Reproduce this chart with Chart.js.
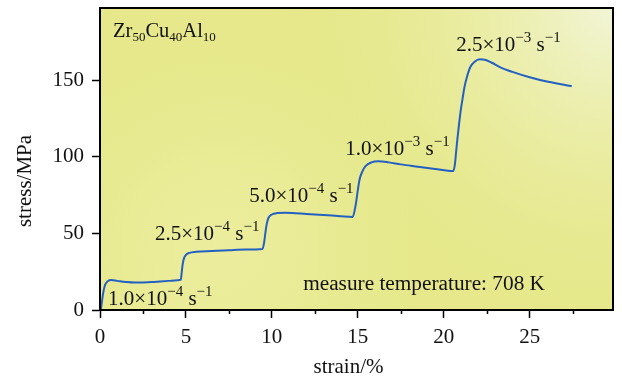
<!DOCTYPE html>
<html>
<head>
<meta charset="utf-8">
<script src="https://cdn.jsdelivr.net/npm/chart.js@4/dist/chart.umd.min.js"></script>
<style>
  html, body { margin: 0; padding: 0; background: #fff; }
  #wrap { width: 622px; height: 378px; position: relative; }
</style>
</head>
<body>
<div id="wrap"><canvas id="c" width="622" height="378"></canvas></div>
<script>
// Tensile stress–strain curve with strain-rate jumps, Zr50Cu40Al10 at 708 K
const strain = [
  0.05, 0.12, 0.2, 0.3, 0.45, 0.65, 1.0, 1.5, 2.0, 2.5, 3.0, 3.5, 4.0, 4.5, 4.7,
  4.75, 4.8, 4.88, 5.0, 5.2, 5.6, 6.5, 7.5, 8.5, 9.45,
  9.55, 9.62, 9.7, 9.8, 10.0, 10.3, 10.8, 12.0, 13.0, 14.0, 14.7,
  14.8, 14.9, 15.0, 15.1, 15.25, 15.45, 15.8, 16.2, 16.8, 17.5, 18.5, 19.5, 20.55,
  20.65, 20.72, 20.8, 20.9, 21.0, 21.1, 21.2, 21.35, 21.55, 21.8, 22.1, 22.4, 22.8, 23.3, 24.0, 25.0, 26.0, 27.0, 27.45
];
const stress = [
  0, 6, 12, 16.5, 18.8, 19.5, 19.0, 18.3, 17.9, 18.0, 18.2, 18.6, 19.0, 19.4, 19.8,
  24, 29, 33.5, 36, 37.3, 38, 38.5, 39, 39.4, 39.8,
  44, 50, 56, 60, 62.3, 63.2, 63.4, 62.7, 62, 61.2, 60.7,
  64, 70, 78, 85, 90, 93.8, 96.3, 97, 96.3, 95, 93.5, 92, 90.6,
  95, 103, 112, 122, 131, 138, 145, 152, 158.5, 162, 163.5, 163.3, 161.3, 158.3, 155.3, 151.8, 149, 147, 146
];

const xTicks = [0, 5, 10, 15, 20, 25];
const xMinorTicks = [2.5, 7.5, 12.5, 17.5, 22.5, 27.5];
const yTicks = [0, 50, 100, 150];

const rateLabels = ['1.0×10^{−4} s^{−1}', '2.5×10^{−4} s^{−1}', '5.0×10^{−4} s^{−1}', '1.0×10^{−3} s^{−1}', '2.5×10^{−3} s^{−1}'];
const rateLabelAt = [[0.47, 3.3], [3.2, 45.6], [8.68, 70.6], [14.27, 101], [20.73, 168.9]];
const alloyName = 'Zr_{50}Cu_{40}Al_{10}';
const alloyAt = [0.76, 178];
const tempNote = 'measure temperature: 708 K';
const tempAt = [11.82, 13.0];

const FONT = '"Liberation Serif", "Times New Roman", serif';

// split "a^{b}c_{d}" into normal / superscript / subscript runs
function parseRich(str) {
  const out = [];
  let i = 0, buf = '';
  while (i < str.length) {
    const ch = str[i];
    if ((ch === '^' || ch === '_') && str[i + 1] === '{') {
      if (buf) { out.push({ t: buf, k: 'n' }); buf = ''; }
      const end = str.indexOf('}', i);
      out.push({ t: str.slice(i + 2, end), k: ch === '^' ? 'sup' : 'sub' });
      i = end + 1;
    } else { buf += ch; i++; }
  }
  if (buf) out.push({ t: buf, k: 'n' });
  return out;
}

function drawRich(ctx, str, x, y, size, supRatio) {
  const runs = parseRich(str);
  ctx.textBaseline = 'alphabetic';
  ctx.textAlign = 'left';
  ctx.fillStyle = '#111';
  let cx = x;
  for (const r of runs) {
    let fs = size, dy = 0;
    if (r.k === 'sup') { fs = Math.round(size * supRatio); dy = -size * 0.42; }
    if (r.k === 'sub') { fs = Math.round(size * 0.64); dy = size * 0.2; }
    ctx.font = fs + 'px ' + FONT;
    ctx.fillText(r.t, cx, y + dy);
    cx += ctx.measureText(r.t).width;
  }
}

const decor = {
  id: 'decor',
  beforeDraw(chart) {
    const { ctx, chartArea: a } = chart;
    ctx.save();
    ctx.fillStyle = '#e6e88b';
    ctx.fillRect(a.left, a.top, a.right - a.left, a.bottom - a.top);
    const g = ctx.createRadialGradient(a.right, a.top, 0, a.right, a.top, 330);
    g.addColorStop(0, 'rgba(242,245,214,1)');
    g.addColorStop(0.45, 'rgba(236,239,176,0.6)');
    g.addColorStop(1, 'rgba(230,232,139,0)');
    ctx.fillStyle = g;
    ctx.fillRect(a.left, a.top, a.right - a.left, a.bottom - a.top);
    const g2 = ctx.createRadialGradient(a.left + 120, a.bottom - 60, 0, a.left + 120, a.bottom - 60, 200);
    g2.addColorStop(0, 'rgba(238,240,166,0.7)');
    g2.addColorStop(1, 'rgba(238,240,166,0)');
    ctx.fillStyle = g2;
    ctx.fillRect(a.left, a.top, a.right - a.left, a.bottom - a.top);
    ctx.restore();
  },
  afterDraw(chart) {
    const { ctx, chartArea: a, scales } = chart;
    ctx.save();
    // frame
    ctx.strokeStyle = '#000';
    ctx.lineWidth = 2;
    ctx.strokeRect(a.left, a.top, a.right - a.left, a.bottom - a.top);
    // minor ticks on the strain axis
    ctx.lineWidth = 1.5;
    ctx.beginPath();
    for (const v of xMinorTicks) {
      const px = Math.round(scales.x.getPixelForValue(v)) + 0.5;
      ctx.moveTo(px, a.bottom);
      ctx.lineTo(px, a.bottom + 4);
    }
    ctx.stroke();
    // in-plot labels
    rateLabels.forEach((s, i) => {
      const [vx, vy] = rateLabelAt[i];
      drawRich(ctx, s, scales.x.getPixelForValue(vx), scales.y.getPixelForValue(vy), 21, 0.72);
    });
    drawRich(ctx, alloyName, scales.x.getPixelForValue(alloyAt[0]), scales.y.getPixelForValue(alloyAt[1]), 20.5, 0.7);
    drawRich(ctx, tempNote, scales.x.getPixelForValue(tempAt[0]), scales.y.getPixelForValue(tempAt[1]), 21.3, 0.7);
    // axis titles
    ctx.fillStyle = '#111';
    ctx.font = '21px ' + FONT;
    ctx.textAlign = 'center';
    ctx.textBaseline = 'middle';
    ctx.fillText('strain/%', (a.left + a.right) / 2 - 8, 367);
    ctx.translate(25, (a.top + a.bottom) / 2 + 22);
    ctx.rotate(-Math.PI / 2);
    ctx.fillText('stress/MPa', 0, 0);
    ctx.restore();
  }
};

new Chart(document.getElementById('c'), {
  type: 'line',
  data: {
    datasets: [{
      data: strain.map((x, i) => ({ x, y: stress[i] })),
      borderColor: '#2360c2',
      borderWidth: 2,
      pointRadius: 0,
      fill: false,
      cubicInterpolationMode: 'monotone'
    }]
  },
  options: {
    responsive: false,
    animation: false,
    devicePixelRatio: 1,
    layout: { padding: { top: 8, right: 9, left: 0, bottom: 0 } },
    plugins: { legend: { display: false }, tooltip: { enabled: false } },
    scales: {
      x: {
        type: 'linear',
        min: 0, max: 29.85,
        afterFit(s) { s.height = 68; s.paddingLeft = 0; s.paddingRight = 0; },
        afterBuildTicks(s) { s.ticks = xTicks.map(v => ({ value: v })); },
        grid: { drawOnChartArea: false, drawTicks: true, tickLength: 8, tickColor: '#000', tickWidth: 1.5 },
        border: { display: true, color: '#000', width: 2 },
        ticks: { color: '#111', font: { family: FONT, size: 21 }, padding: 7, maxRotation: 0 }
      },
      y: {
        type: 'linear',
        min: 0, max: 197,
        afterFit(s) { s.width = 100; s.paddingTop = 0; s.paddingBottom = 0; },
        afterBuildTicks(s) { s.ticks = yTicks.map(v => ({ value: v })); },
        grid: { drawOnChartArea: false, drawTicks: true, tickLength: 8, tickColor: '#000', tickWidth: 1.5 },
        border: { display: true, color: '#000', width: 2 },
        ticks: { color: '#111', font: { family: FONT, size: 21 }, padding: 8 }
      }
    }
  },
  plugins: [decor]
});
</script>
</body>
</html>
